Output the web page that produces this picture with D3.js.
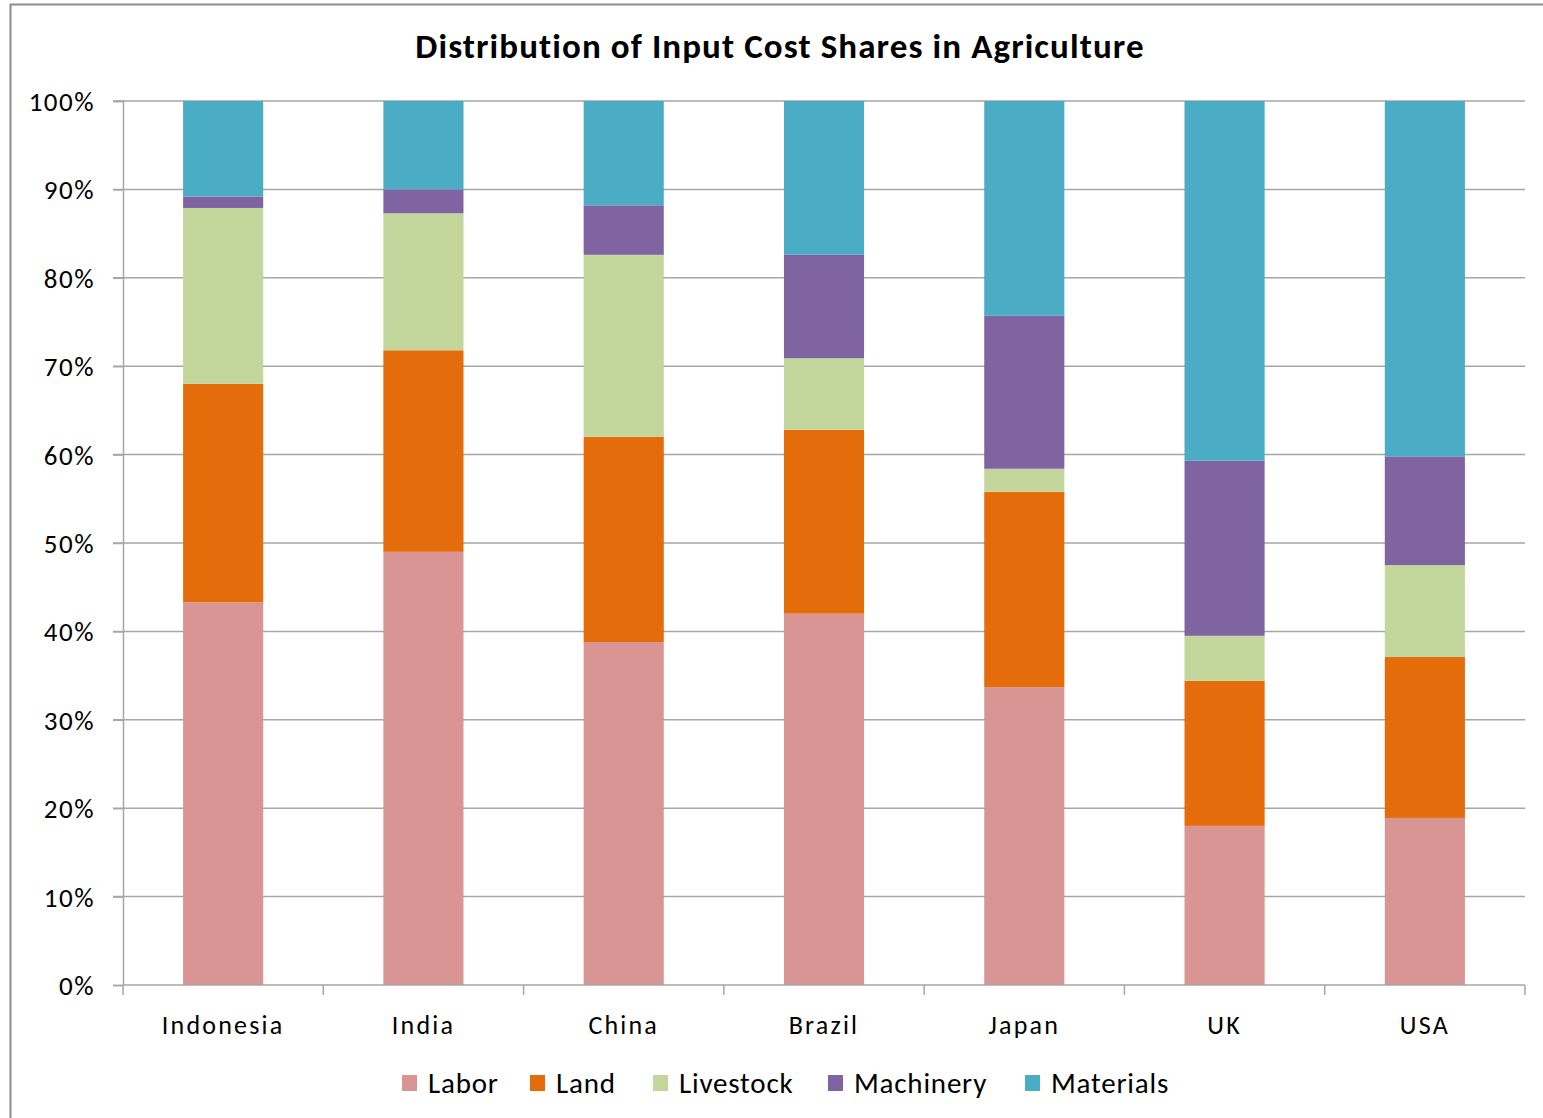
<!DOCTYPE html>
<html>
<head>
<meta charset="utf-8">
<script src="https://cdn.jsdelivr.net/npm/d3@7"></script>
<style>
  html, body { margin: 0; padding: 0; background: #fff; }
  svg { display: block; }
  text { font-family: Carlito, Lato, "Open Sans", sans-serif; fill: #000; }
</style>
</head>
<body>
<svg id="chart" width="1543" height="1118"></svg>
<script>
// Input cost shares (%) by country, stacked bottom to top
const countries = ["Indonesia", "India", "China", "Brazil", "Japan", "UK", "USA"];
const seriesNames = ["Labor", "Land", "Livestock", "Machinery", "Materials"];
const labor     = [43.3, 49.0, 38.8, 42.0, 33.7, 18.0, 18.9];
const land      = [24.7, 22.8, 23.2, 20.8, 22.1, 16.4, 18.2];
const livestock = [19.9, 15.5, 20.6,  8.1,  2.6,  5.1, 10.4];
const machinery = [ 1.3,  2.7,  5.6, 11.7, 17.3, 19.8, 12.3];
const materials = [10.8, 10.0, 11.8, 17.4, 24.3, 40.7, 40.2];
const colors = ["#D99594", "#E46C0A", "#C3D69B", "#8064A2", "#4BACC6"];
const yTicks = [0, 10, 20, 30, 40, 50, 60, 70, 80, 90, 100];
const title = "Distribution of Input Cost Shares in Agriculture";

const seriesValues = [labor, land, livestock, machinery, materials];
const rows = countries.map((c, i) => {
  const r = { country: c };
  seriesNames.forEach((s, k) => { r[s] = seriesValues[k][i]; });
  return r;
});

const svg = d3.select("#chart");
const plotLeft = 123, plotRight = 1525, plotTop = 101, plotBottom = 985;

// chart frame
svg.append("rect")
  .attr("x", 10.5).attr("y", 4.5)
  .attr("width", 1560).attr("height", 1200)
  .attr("fill", "none").attr("stroke", "#8c8c8c").attr("stroke-width", 2);

const x = d3.scaleBand().domain(countries).range([plotLeft, plotRight])
  .paddingInner(0.6).paddingOuter(0.3);
const y = d3.scaleLinear().domain([0, 100]).range([plotBottom, plotTop]);

// horizontal gridlines
svg.append("g").selectAll("line").data(yTicks.filter(t => t > 0)).join("line")
  .attr("x1", plotLeft - 10).attr("x2", plotRight)
  .attr("y1", d => y(d)).attr("y2", d => y(d))
  .attr("stroke", "#a6a6a6").attr("stroke-width", 1.5);

// y axis
const yAxis = d3.axisLeft(y).tickValues(yTicks).tickSize(10).tickPadding(18)
  .tickFormat(d => d + "%");
const gy = svg.append("g").attr("transform", `translate(${plotLeft},0)`).call(yAxis);
gy.attr("font-family", null).attr("font-size", null);
gy.select(".domain").attr("stroke", "#a6a6a6").attr("stroke-width", 1.5);
gy.selectAll(".tick line").attr("stroke", "#a6a6a6").attr("stroke-width", 1.5);
gy.selectAll(".tick text").attr("font-size", 27).attr("letter-spacing", 1.5)
  .attr("fill", "#000").attr("dy", "0.35em");

// stacked bars
const stack = d3.stack().keys(seriesNames);
const layers = stack(rows);
svg.append("g").selectAll("g").data(layers).join("g")
  .attr("fill", (d, i) => colors[i])
  .selectAll("rect").data(d => d).join("rect")
  .attr("x", d => x(d.data.country))
  .attr("width", x.bandwidth())
  .attr("y", d => y(d[1]))
  .attr("height", d => y(d[0]) - y(d[1]));

// x axis with category boundary ticks
const gx = svg.append("g").attr("transform", `translate(0,${plotBottom})`);
gx.append("line").attr("x1", plotLeft).attr("x2", plotRight)
  .attr("stroke", "#a6a6a6").attr("stroke-width", 1.5);
const bounds = d3.range(countries.length + 1).map(i => plotLeft + i * x.step());
gx.selectAll("line.b").data(bounds).join("line").attr("class", "b")
  .attr("x1", d => d).attr("x2", d => d).attr("y1", 0).attr("y2", 10)
  .attr("stroke", "#a6a6a6").attr("stroke-width", 1.5);
gx.selectAll("text").data(countries).join("text")
  .attr("x", d => x(d) + x.bandwidth() / 2).attr("y", 49)
  .attr("text-anchor", "middle").attr("font-size", 26)
  .attr("letter-spacing", 2.2)
  .text(d => d);

// title
svg.append("text").attr("x", 780).attr("y", 58)
  .attr("text-anchor", "middle").attr("font-size", 35).attr("font-weight", "bold")
  .attr("letter-spacing", 1.1)
  .text(title);

// legend
const legendX = [402, 530, 653, 828, 1025];
const lg = svg.append("g").selectAll("g").data(seriesNames).join("g")
  .attr("transform", (d, i) => `translate(${legendX[i]},1083)`);
lg.append("rect").attr("x", 0).attr("y", -8).attr("width", 15).attr("height", 16)
  .attr("fill", (d, i) => colors[i]);
lg.append("text").attr("x", 26).attr("y", 0).attr("dy", "0.35em")
  .attr("font-size", 29).attr("letter-spacing", 0.8).text(d => d);
</script>
</body>
</html>
